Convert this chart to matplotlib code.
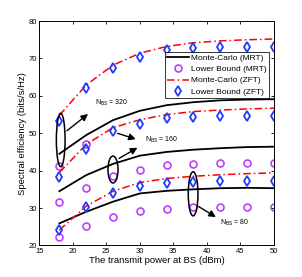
"""Spectral efficiency vs transmit power at BS, MRT / ZFT for three antenna counts."""

import matplotlib

matplotlib.use("Agg")
import matplotlib.pyplot as plt
import numpy as np
from matplotlib.patches import Ellipse

plt.rcParams["font.family"] = ["Liberation Sans", "DejaVu Sans"]

power_dbm = [18, 22, 26, 30, 34, 38, 42, 46, 50]

# N_BS = 320
mrt_mc_320 = [44.5, 49.5, 53.5, 56.0, 57.5, 58.3, 58.8, 59.0, 59.1]
mrt_lb_320 = [41.3, 47.2, np.nan, np.nan, np.nan, np.nan, np.nan, np.nan, np.nan]
zft_mc_320 = [54.8, 62.9, 68.2, 71.4, 73.2, 74.2, 74.7, 75.0, 75.2]
zft_lb_320 = [53.3, 62.0, 67.4, 70.5, 72.2, 72.7, 73.0, 73.0, 73.1]

# N_BS = 160
mrt_mc_160 = [34.5, 38.8, 41.8, 44.0, 45.0, 45.6, 46.0, 46.3, 46.4]
mrt_lb_160 = [31.5, 35.4, 38.6, 40.3, 41.5, 41.7, 42.0, 42.0, 42.0]
zft_mc_160 = [39.5, 47.0, 51.5, 53.6, 55.0, 55.8, 56.2, 56.5, 56.7]
zft_lb_160 = [38.3, 45.8, 50.7, 52.6, 54.1, 54.4, 54.5, 54.6, 54.6]

# N_BS = 80
mrt_mc_80 = [25.9, 29.0, 31.7, 33.9, 34.6, 35.0, 35.3, 35.4, 35.3]
mrt_lb_80 = [22.3, 25.3, 27.7, 29.2, 29.8, 30.3, 30.4, 30.4, 30.4]
zft_mc_80 = [24.1, 30.5, 34.5, 36.8, 37.9, 38.5, 38.9, 39.2, 39.4]
zft_lb_80 = [24.1, 30.2, 33.9, 35.8, 36.6, 37.0, 37.1, 37.1, 37.1]

labels = ["Monte-Carlo (MRT)", "Lower Bound (MRT)", "Monte-Carlo (ZFT)", "Lower Bound (ZFT)"]

fig = plt.figure(figsize=(3.02, 2.77), dpi=100)
ax = fig.add_axes([0.130, 0.114, 0.777, 0.810])

purple = "#b940ff"
blue = "#1f3cff"
groups = [
    (mrt_mc_320, mrt_lb_320, zft_mc_320, zft_lb_320),
    (mrt_mc_160, mrt_lb_160, zft_mc_160, zft_lb_160),
    (mrt_mc_80, mrt_lb_80, zft_mc_80, zft_lb_80),
]
for i, (mrt_mc, mrt_lb, zft_mc, zft_lb) in enumerate(groups):
    ax.plot(power_dbm, mrt_mc, color="black", lw=1.3, label=labels[0] if i == 0 else None)
    ax.plot(power_dbm, mrt_lb, ls="none", marker="o", ms=5, mfc="none", mec=purple, mew=1.2,
            label=labels[1] if i == 0 else None)
    ax.plot(power_dbm, zft_mc, color="red", lw=1.1, dashes=(5, 2, 1, 2),
            label=labels[2] if i == 0 else None)
    ax.plot(power_dbm, zft_lb, ls="none", marker="d", ms=5.5, mfc="none", mec=blue, mew=1.3,
            label=labels[3] if i == 0 else None)

# annotations
ax.add_patch(Ellipse((18.2, 48.2), 1.3, 14.3, fill=False, ec="black", lw=1.1, zorder=5))
ax.add_patch(Ellipse((26.0, 40.3), 1.5, 7.2, fill=False, ec="black", lw=1.1, zorder=5))
ax.add_patch(Ellipse((37.95, 33.8), 1.45, 11.8, fill=False, ec="black", lw=1.1, zorder=5))

arrow = dict(arrowstyle="-|>", color="black", lw=1.0, mutation_scale=10)
ax.annotate("", xy=(22.6, 55.6), xytext=(18.8, 50.2), arrowprops=arrow)
ax.annotate("", xy=(29.8, 48.2), xytext=(26.3, 50.2), arrowprops=arrow)
ax.annotate("", xy=(30.0, 46.5), xytext=(26.55, 42.9), arrowprops=arrow)
ax.annotate("", xy=(41.7, 27.2), xytext=(38.4, 30.8), arrowprops=arrow)
ax.text(23.3, 58.0, r"N$_{\mathregular{BS}}$ = 320", fontsize=5, va="center")
ax.text(30.7, 48.3, r"N$_{\mathregular{BS}}$ = 160", fontsize=5, va="center")
ax.text(42.0, 25.9, r"N$_{\mathregular{BS}}$ = 80", fontsize=5, va="center")

ax.set_xlim(15, 50)
ax.set_ylim(20, 80)
ax.set_xticks(range(15, 51, 5))
ax.set_yticks(range(20, 81, 10))
ax.tick_params(direction="in", top=True, right=True, labelsize=5.5, length=2.5, width=0.6, pad=1.5)
for spine in ax.spines.values():
    spine.set_linewidth(0.7)
ax.set_xlabel("The transmit power at BS (dBm)", fontsize=6.8, labelpad=1)
ax.set_ylabel("Spectral efficiency (bits/s/Hz)", fontsize=6.8, labelpad=1)

leg = ax.legend(loc="upper right", bbox_to_anchor=(0.981, 0.863), fontsize=6, frameon=True,
                fancybox=False, edgecolor="black", handlelength=2.6, handletextpad=0.3,
                borderpad=0.3, labelspacing=0.4, borderaxespad=0)
leg.get_frame().set_linewidth(0.7)

fig.savefig("out.png", dpi=100)
